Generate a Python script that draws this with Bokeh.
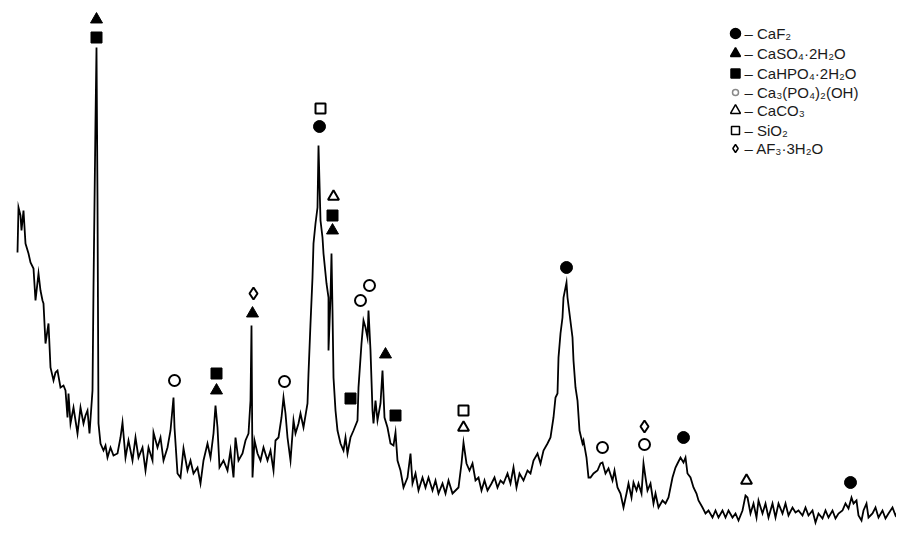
from bokeh.plotting import figure
from bokeh.models import Range1d
from bokeh.core.properties import value
from bokeh.embed import file_html
from bokeh.resources import INLINE

# ---- diffraction trace (position along scan, intensity) ----
scan_pos = [17, 18, 20, 21, 23, 25, 28, 30, 33, 35, 38, 40, 42, 43, 45, 48, 50, 53, 55, 57,
            60, 63, 65, 67, 68, 70, 73, 75, 77, 80, 83, 85, 87, 89, 92, 93, 95, 96, 97, 98,
            100, 103, 105, 107, 110, 113, 117, 120, 122, 125, 128, 132, 135, 138, 142, 145, 148, 152, 153, 157,
            160, 163, 167, 170, 173, 174, 177, 180, 183, 187, 190, 193, 197, 200, 203, 207, 210, 213, 215, 217,
            219, 223, 227, 230, 233, 235, 238, 242, 245, 248, 250, 251, 252, 254, 257, 260, 263, 267, 270, 273,
            275, 278, 281, 283, 285, 287, 290, 293, 295, 298, 300, 303, 307, 308, 310, 312, 313, 315, 317, 318,
            320, 322, 323, 326, 328, 328, 330, 331, 332, 333, 335, 337, 340, 343, 345, 347, 350, 353, 357, 358,
            361, 363, 365, 367, 368, 370, 372, 373, 375, 377, 380, 382, 384, 387, 390, 393, 395, 397, 400, 403,
            407, 410, 412, 415, 418, 422, 425, 428, 432, 435, 438, 442, 445, 448, 452, 455, 458, 461, 463, 466,
            469, 472, 475, 478, 481, 484, 487, 491, 494, 497, 500, 503, 507, 510, 513, 516, 519, 523, 527, 530,
            533, 537, 540, 543, 547, 550, 553, 555, 557, 558, 560, 562, 563, 566, 567, 569, 572, 573, 575, 577,
            579, 582, 583, 586, 588, 590, 593, 597, 600, 602, 605, 608, 612, 614, 617, 620, 623, 626, 628, 631,
            633, 636, 638, 641, 643, 645, 647, 650, 653, 655, 658, 662, 665, 668, 672, 675, 677, 680, 683, 685,
            687, 690, 693, 696, 698, 702, 705, 708, 712, 715, 718, 722, 725, 728, 732, 735, 738, 742, 745, 747,
            750, 753, 756, 758, 762, 765, 768, 772, 775, 778, 782, 785, 788, 792, 795, 798, 802, 805, 808, 812,
            815, 818, 822, 825, 828, 832, 835, 838, 842, 845, 848, 851, 853, 856, 858, 861, 863, 866, 868, 872,
            875, 878, 882, 885, 888, 892, 895, 898, 902]
intensity = [284, 329, 321, 306, 326, 293, 283, 274, 268, 236, 263, 246, 236, 233, 193, 213, 169, 156, 164, 166,
             149, 151, 146, 119, 143, 113, 129, 116, 103, 129, 113, 121, 126, 103, 146, 249, 416, 489, 336, 113,
             93, 86, 91, 79, 89, 81, 83, 99, 114, 79, 96, 76, 99, 79, 89, 66, 89, 76, 104, 89,
             99, 76, 89, 106, 139, 109, 63, 59, 88, 66, 76, 63, 69, 53, 76, 93, 79, 103, 131, 109,
             69, 76, 66, 86, 59, 99, 76, 83, 96, 103, 136, 211, 59, 96, 83, 76, 89, 76, 86, 66,
             96, 99, 119, 139, 123, 99, 76, 116, 103, 113, 123, 109, 133, 163, 213, 259, 293, 313, 329, 391,
             316, 299, 283, 253, 239, 186, 239, 283, 226, 159, 126, 106, 93, 86, 99, 83, 99, 106, 116, 149,
             193, 216, 209, 199, 226, 186, 126, 113, 136, 116, 133, 166, 119, 109, 93, 91, 104, 76, 66, 49,
             59, 83, 53, 63, 46, 59, 49, 59, 46, 56, 43, 53, 43, 56, 43, 46, 49, 73, 94, 73,
             66, 73, 56, 59, 46, 56, 46, 53, 59, 49, 56, 53, 63, 53, 69, 49, 63, 56, 66, 63,
             76, 83, 73, 86, 93, 99, 119, 139, 143, 179, 203, 219, 239, 254, 239, 223, 199, 176, 149, 136,
             106, 93, 96, 79, 59, 59, 63, 66, 73, 74, 63, 68, 56, 66, 49, 43, 29, 43, 53, 39,
             54, 46, 53, 43, 73, 59, 46, 53, 33, 43, 29, 36, 33, 39, 59, 69, 73, 79, 74, 79,
             63, 59, 49, 43, 36, 29, 23, 26, 19, 26, 19, 26, 19, 26, 19, 23, 16, 26, 41, 39,
             23, 33, 19, 36, 23, 33, 19, 33, 19, 33, 23, 33, 21, 29, 24, 26, 21, 29, 21, 26,
             14, 23, 18, 26, 19, 26, 18, 23, 26, 33, 28, 39, 33, 36, 21, 16, 26, 33, 19, 23,
             29, 19, 26, 18, 23, 29, 21, 26, 21]

# ---- phase identification marks (position, height) ----
caso4_x = [96, 216, 252, 332, 385]
caso4_y = [517, 146, 223, 306, 182]
cahpo4_x = [96, 216, 332, 350, 395]
cahpo4_y = [499, 163, 321, 138, 121]
caf2_x = [319, 566, 683, 850]
caf2_y = [410, 269, 99, 54]
hap_x = [174, 284, 360, 369, 602, 644]
hap_y = [156, 155, 236, 251, 89, 92]
caco3_x = [333, 463, 746]
caco3_y = [340, 109, 56]
sio2_x = [320, 463]
sio2_y = [428, 126]
af3_x = [253, 644]
af3_y = [243, 110]

# ---- legend ----
legend_labels = ["– CaF₂", "– CaSO₄·2H₂O", "– CaHPO₄·2H₂O", "– Ca₃(PO₄)₂(OH)",
                 "– CaCO₃", "– SiO₂", "– AF₃·3H₂O"]
legend_markers = ["circle", "triangle", "square", "circle", "triangle", "square", "diamond"]
legend_fill = ["black", "black", "black", None, None, None, None]
legend_line = ["black", "black", "black", "#888888", "black", "black", "black"]
legend_size = [10, 10, 9, 6, 10, 8, 8]
legend_rows = [503, 483, 463, 444, 426, 406, 388]

p = figure(width=896, height=528, output_backend="svg", toolbar_location=None,
           x_range=Range1d(0, 896), y_range=Range1d(8, 536), min_border=0)
p.axis.visible = False
p.grid.visible = False
p.outline_line_color = None
p.background_fill_color = "white"

p.line(scan_pos, intensity, line_color="black", line_width=1.8, line_join="miter")

p.scatter(caso4_x, caso4_y, marker="triangle", size=12, fill_color="black", line_color="black")
p.scatter(cahpo4_x, cahpo4_y, marker="square", size=11, fill_color="black", line_color="black")
p.scatter(caf2_x, caf2_y, marker="circle", size=12, fill_color="black", line_color="black")
p.scatter(hap_x, hap_y, marker="circle", size=11, fill_color=None, line_color="black", line_width=2)
p.scatter(caco3_x, caco3_y, marker="triangle", size=11, fill_color=None, line_color="black", line_width=2)
p.scatter(sio2_x, sio2_y, marker="square", size=10, fill_color=None, line_color="black", line_width=2)
p.scatter(af3_x, af3_y, marker="diamond", size=12, fill_color=None, line_color="black", line_width=2)

legend_x = [735] * len(legend_rows)
for i in range(len(legend_rows)):
    p.scatter([legend_x[i]], [legend_rows[i]], marker=legend_markers[i], size=legend_size[i],
              fill_color=legend_fill[i], line_color=legend_line[i], line_width=1.5)
p.text([744] * len(legend_rows), legend_rows, text=legend_labels,
       text_font=value("Liberation Sans"), text_font_size="15px",
       text_baseline="middle", text_color="#1a1a1a")

open("out.html", "w").write(file_html(p, INLINE))
